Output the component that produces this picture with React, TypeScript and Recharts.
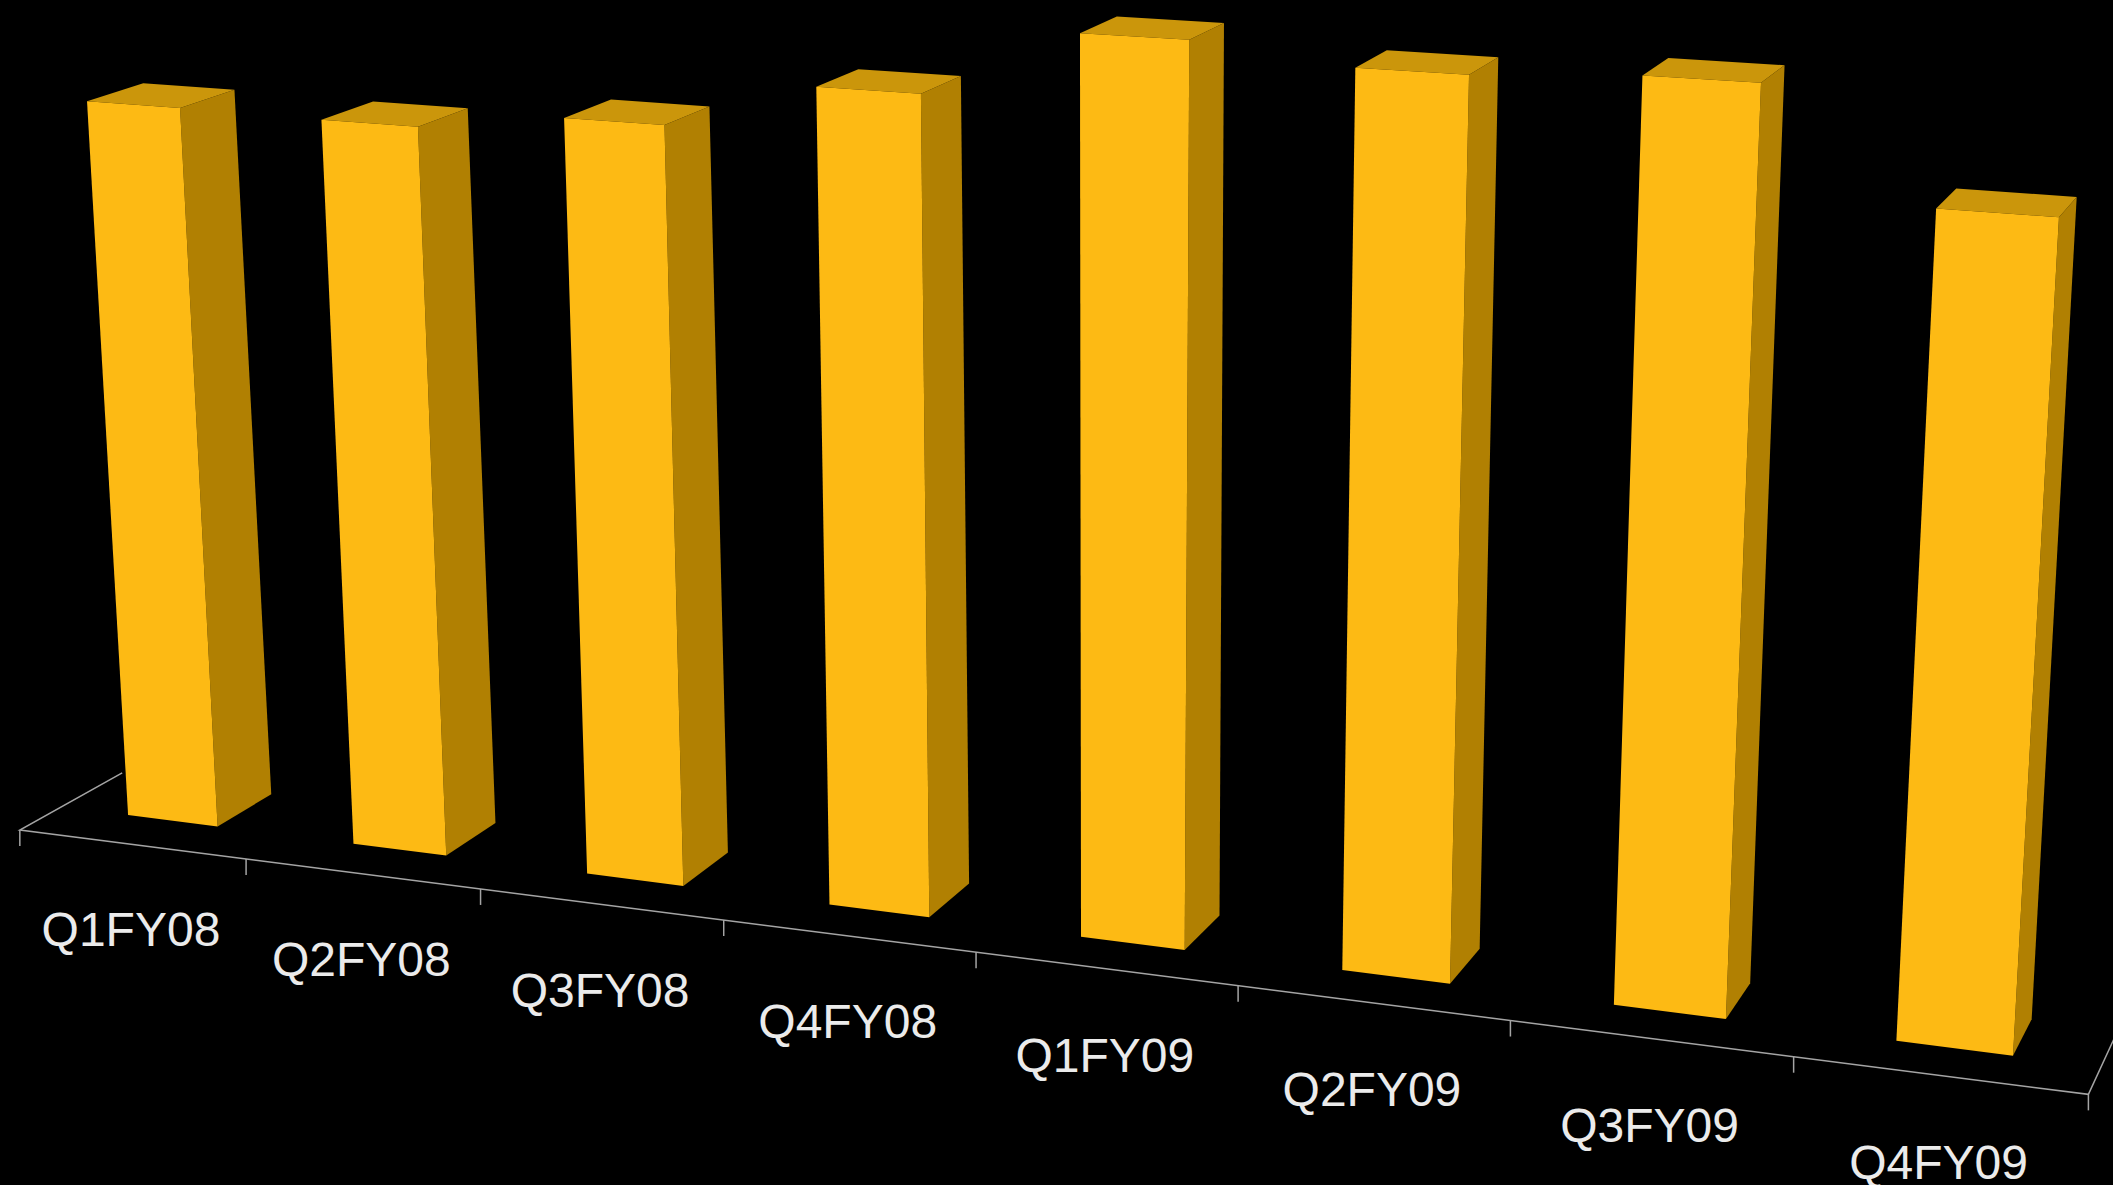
import { BarChart, Bar, XAxis, YAxis, ReferenceLine } from "recharts";

const WIDTH = 2113;
const HEIGHT = 1185;

const quarters = ["Q1FY08", "Q2FY08", "Q3FY08", "Q4FY08", "Q1FY09", "Q2FY09", "Q3FY09", "Q4FY09"];
const values = [84.2, 84.0, 86.1, 91.3, 98.7, 96.9, 97.9, 86.6];

const chartData = quarters.map((quarter, i) => ({ quarter, value: values[i] }));

const FRONT_COLOR = "#FDBA14";
const TOP_COLOR = "#CB960B";
const SIDE_COLOR = "#B18002";
const AXIS_COLOR = "#A4A4A4";
const LABEL_COLOR = "#EBEBEB";

// flat plot rectangle that recharts lays out: margins 40, x axis 30 high
const PLOT = { left: 40, top: 40, width: WIDTH - 80, height: HEIGHT - 110 };
const PLOT_BOTTOM = PLOT.top + PLOT.height;

// where the plot corners land on screen: top-left, top-right, bottom-right, bottom-left
const [p0, p1, p2, p3] = [
  [9.8, -43.5],
  [2160, 85.4],
  [2101, 1067],
  [62, 806.5],
];

const det = (p1[0] - p2[0]) * (p3[1] - p2[1]) - (p3[0] - p2[0]) * (p1[1] - p2[1]);
const sx = p0[0] - p1[0] + p2[0] - p3[0];
const sy = p0[1] - p1[1] + p2[1] - p3[1];
const g = (sx * (p3[1] - p2[1]) - (p3[0] - p2[0]) * sy) / det;
const h = ((p1[0] - p2[0]) * sy - sx * (p1[1] - p2[1])) / det;

// depth lines all run towards this point
const DEPTH_VANISH = [2970, -820];
const BAR_DEPTH = 0.0195;
const AXIS_DEPTH = -0.0145;
// the left floor edge stops where the first bar hides it
const FLOOR_LEFT_DEPTH = 0.0207;
const FLOOR_RIGHT_DEPTH = 0.0355;
const TICK_LENGTH = 16;

// flat chart position plus depth -> screen position
function project(x: number, y: number, depth = 0): [number, number] {
  const s = (x - PLOT.left) / PLOT.width;
  const t = (y - PLOT.top) / PLOT.height;
  const w = g * s + h * t + 1;
  const px = ((p1[0] - p0[0] + g * p1[0]) * s + (p3[0] - p0[0] + h * p3[0]) * t + p0[0]) / w;
  const py = ((p1[1] - p0[1] + g * p1[1]) * s + (p3[1] - p0[1] + h * p3[1]) * t + p0[1]) / w;
  return [px + depth * (DEPTH_VANISH[0] - px), py + depth * (DEPTH_VANISH[1] - py)];
}

const toPoints = (pts: [number, number][]) => pts.map((p) => p.join(",")).join(" ");

function Box3D({ x, y, width, height }: { x: number; y: number; width: number; height: number }) {
  const bottom = y + height;
  const right = x + width;
  const front = [project(x, y), project(right, y), project(right, bottom), project(x, bottom)];
  const top = [project(x, y), project(x, y, BAR_DEPTH), project(right, y, BAR_DEPTH), project(right, y)];
  const side = [project(right, y), project(right, y, BAR_DEPTH), project(right, bottom, BAR_DEPTH), project(right, bottom)];
  return (
    <g>
      <polygon points={toPoints(side)} fill={SIDE_COLOR} />
      <polygon points={toPoints(top)} fill={TOP_COLOR} />
      <polygon points={toPoints(front)} fill={FRONT_COLOR} />
    </g>
  );
}

function QuarterTick({ x, payload }: { x?: number; payload?: { value: string } }) {
  const [px, py] = project(x ?? 0, PLOT_BOTTOM, AXIS_DEPTH);
  // labels sit a little further below the axis towards the right
  const drop = 101.5 + (2.5 * px) / WIDTH;
  return (
    <text
      x={px - 1}
      y={py + drop}
      textAnchor="middle"
      fill={LABEL_COLOR}
      fontFamily="'Liberation Sans', Arial, sans-serif"
      fontSize={48}
    >
      {payload?.value}
    </text>
  );
}

// front edge of the floor with its tick marks, plus the two side edges
function Floor({ x1, x2, y1 }: { x1: number; x2: number; y1: number }) {
  const start = project(x1, y1, AXIS_DEPTH);
  const end = project(x2, y1, AXIS_DEPTH);
  const band = (x2 - x1) / quarters.length;
  const stroke = { stroke: AXIS_COLOR, strokeWidth: 1.5, fill: "none" };
  return (
    <g>
      <polyline
        points={toPoints([project(x1, y1, FLOOR_LEFT_DEPTH), start, end, project(x2, y1, FLOOR_RIGHT_DEPTH)])}
        {...stroke}
      />
      {[...quarters, ""].map((_, i) => {
        const [tx, ty] = project(x1 + i * band, y1, AXIS_DEPTH);
        return <line key={i} x1={tx} y1={ty} x2={tx} y2={ty + TICK_LENGTH} {...stroke} />;
      })}
    </g>
  );
}

export default function App() {
  return (
    <div style={{ position: "absolute", left: 0, top: 0, width: WIDTH, height: HEIGHT, background: "#000", overflow: "hidden" }}>
      <BarChart
        width={WIDTH}
        height={HEIGHT}
        data={chartData}
        margin={{ top: 40, right: 40, bottom: 40, left: 40 }}
        barCategoryGap="30%"
      >
        <XAxis
          dataKey="quarter"
          height={30}
          axisLine={false}
          tickLine={false}
          interval={0}
          tick={<QuarterTick />}
        />
        <YAxis hide domain={[0, 100]} />
        <ReferenceLine y={0} shape={(props: any) => <Floor {...props} />} />
        <Bar dataKey="value" isAnimationActive={false} shape={(props: any) => <Box3D {...props} />} />
      </BarChart>
    </div>
  );
}
